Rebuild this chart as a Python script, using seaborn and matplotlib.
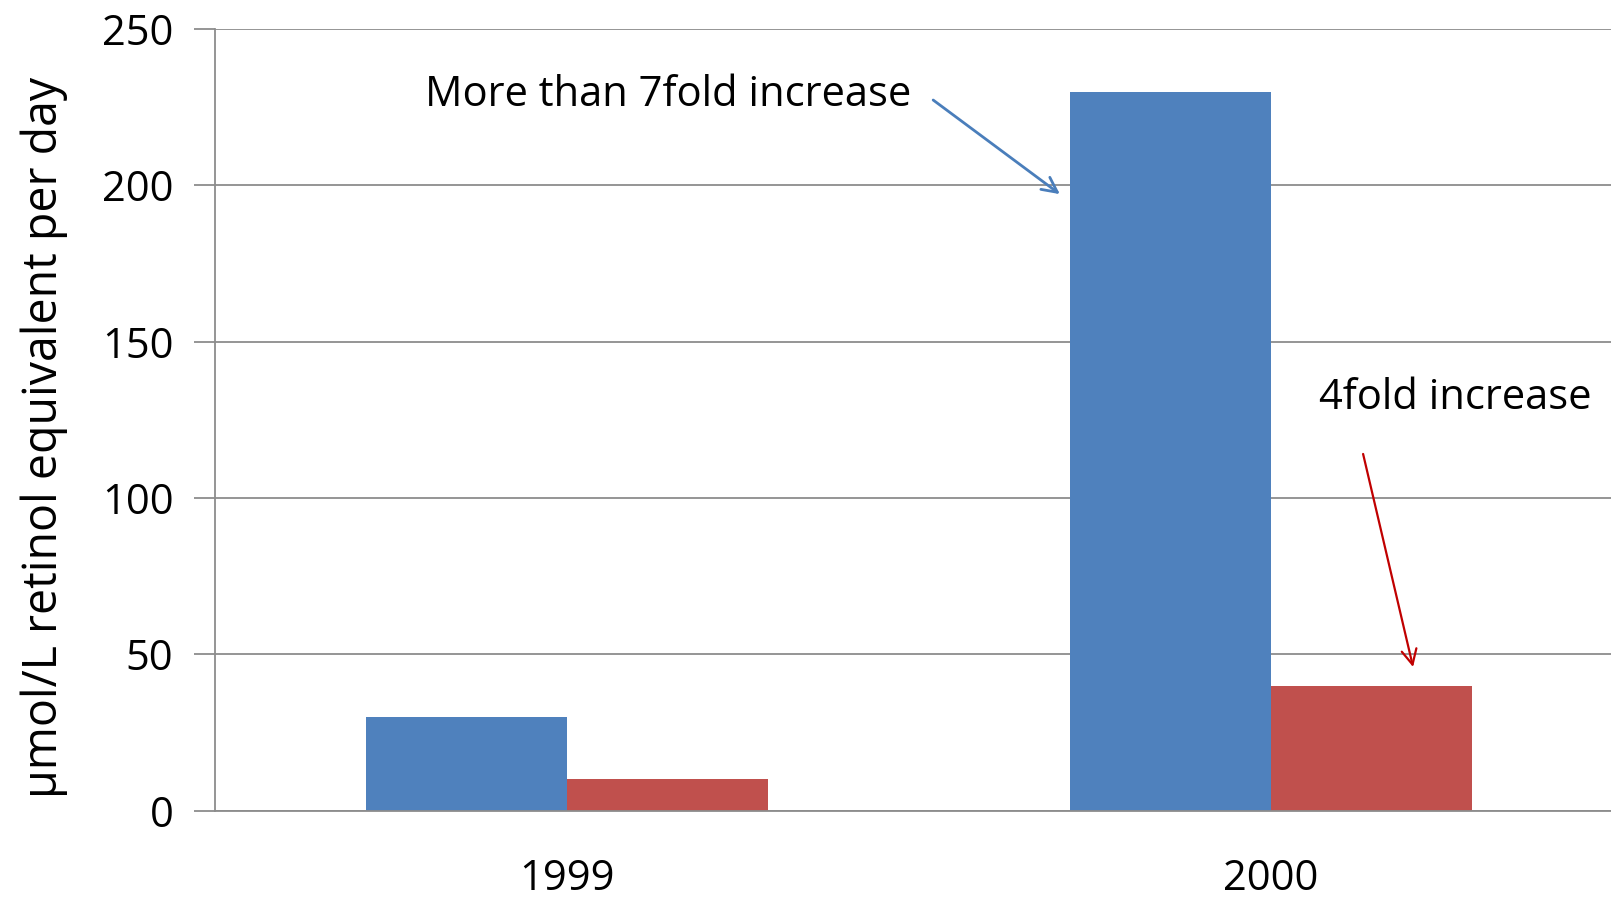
import matplotlib
matplotlib.use("Agg")
import matplotlib.pyplot as plt
import seaborn as sns
import pandas as pd

# Data
years = ["1999", "2000"]
series = ["Series A", "Series B"]
values_a = [30, 230]
values_b = [10, 40]
y_ticks = [0, 50, 100, 150, 200, 250]

colors = ["#4F81BD", "#C0504D"]
grid_col = "#8C8C8C"

sns.set_theme(style="white")
plt.rcParams["font.family"] = ["Open Sans", "DejaVu Sans"]
plt.rcParams["text.color"] = "black"
plt.rcParams["axes.labelcolor"] = "black"

df = pd.DataFrame({
    "year": years * 2,
    "series": [series[0]] * 2 + [series[1]] * 2,
    "value": values_a + values_b,
})

fig = plt.figure(figsize=(16.11, 9.02), dpi=100)
ax = fig.add_axes([0.1335, 0.1012, 0.874, 0.8666])

sns.barplot(data=df, x="year", y="value", hue="series", order=years,
            hue_order=series, palette=colors, width=0.571, saturation=1,
            linewidth=0, ax=ax, legend=False)

ax.set_xlim(-0.5, 1.5)
ax.set_ylim(0, 250)
ax.set_yticks(y_ticks)
ax.yaxis.grid(True, color=grid_col, linewidth=1.3)
ax.set_axisbelow(True)

for side in ["top", "right"]:
    ax.spines[side].set_visible(False)
for side in ["left", "bottom"]:
    ax.spines[side].set_color(grid_col)
    ax.spines[side].set_linewidth(1.3)

# category labels at centres, tick marks at category boundaries
ax.set_xticks([0, 1])
ax.set_xticklabels(years)
ax.set_xticks([-0.5, 0.5, 1.5], minor=True)
ax.tick_params(axis="x", which="major", length=0, pad=34, labelsize=30,
               labelcolor="black")
ax.tick_params(axis="x", which="minor", length=15, width=1.3, color=grid_col)
ax.tick_params(axis="y", which="major", length=15, width=1.3, color=grid_col,
               pad=15, labelsize=30, left=True, labelcolor="black")
ax.set_xlabel("")
ax.set_ylabel("µmol/L retinol equivalent per day", fontsize=33.5, labelpad=24)
ax.yaxis.label.set_y(0.478)

# callouts
arrow_style = "->,head_length=0.9,head_width=0.45"
ax.text(0.1435, 228.8, "More than 7fold increase", ha="center", va="center",
        fontsize=30)
ax.annotate("", xy=(0.700, 197.2), xytext=(0.520, 227.3),
            arrowprops=dict(arrowstyle=arrow_style, color="#4A7EBB", lw=2,
                            shrinkA=0, shrinkB=0))
ax.text(1.261, 131.9, "4fold increase", ha="center", va="center", fontsize=30)
ax.annotate("", xy=(1.2017, 45.96), xytext=(1.1307, 114.1),
            arrowprops=dict(arrowstyle=arrow_style, color="#C00000", lw=1.6,
                            shrinkA=0, shrinkB=0))

fig.savefig("out.png", dpi=100)
